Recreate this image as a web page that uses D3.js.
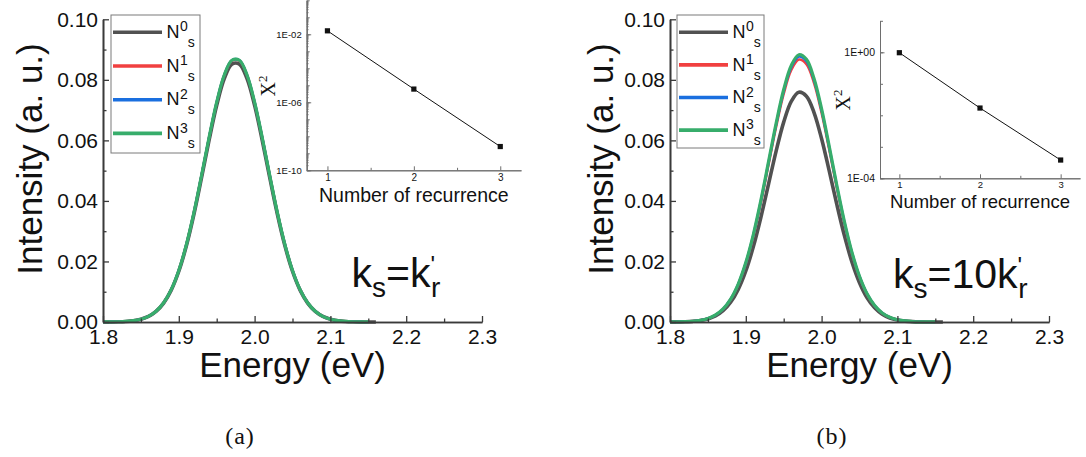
<!DOCTYPE html>
<html>
<head>
<meta charset="utf-8">
<script src="https://cdn.jsdelivr.net/npm/d3@7"></script>
<style>
  html, body { margin: 0; padding: 0; background: #fff; }
  svg { display: block; }
  text { font-family: "Liberation Sans", Arial, sans-serif; fill: #111; }
  .serif { font-family: "Liberation Serif", "Times New Roman", serif; }
</style>
</head>
<body>
<svg id="fig" width="1086" height="457"></svg>
<script>
// Photon energy grid (eV)
const energy = [1.80, 1.81, 1.82, 1.83, 1.84, 1.85, 1.86, 1.87, 1.88, 1.89,
                1.90, 1.91, 1.92, 1.93, 1.94, 1.95, 1.96, 1.97, 1.98, 1.99,
                2.00, 2.01, 2.02, 2.03, 2.04, 2.05, 2.06, 2.07, 2.08, 2.09,
                2.10, 2.11, 2.12, 2.13, 2.14, 2.15, 2.16];

// (a) k_s = k'_r : emission intensity after each recurrence
const a_N0 = [0.00001, 0.00003, 0.00008, 0.00019, 0.00043, 0.00092, 0.00184, 0.00349, 0.00625, 0.01053,
              0.01676, 0.02516, 0.03565, 0.04766, 0.06012, 0.07156, 0.08038, 0.08518, 0.08518, 0.08038,
              0.07156, 0.06012, 0.04766, 0.03565, 0.02516, 0.01676, 0.01053, 0.00625, 0.00349, 0.00184,
              0.00092, 0.00043, 0.00019, 0.00008, 0.00003, 0.00001, 0.00000];
const a_N1 = [0.00001, 0.00003, 0.00008, 0.00019, 0.00044, 0.00093, 0.00187, 0.00354, 0.00633, 0.01068,
              0.01699, 0.02552, 0.03615, 0.04833, 0.06096, 0.07256, 0.08150, 0.08637, 0.08637, 0.08150,
              0.07256, 0.06096, 0.04833, 0.03615, 0.02552, 0.01699, 0.01068, 0.00633, 0.00354, 0.00187,
              0.00093, 0.00044, 0.00019, 0.00008, 0.00003, 0.00001];
const a_N2 = [0.00001, 0.00003, 0.00008, 0.00019, 0.00044, 0.00093, 0.00187, 0.00355, 0.00634, 0.01069,
              0.01701, 0.02555, 0.03619, 0.04838, 0.06103, 0.07265, 0.08159, 0.08647, 0.08647, 0.08159,
              0.07265, 0.06103, 0.04838, 0.03619, 0.02555, 0.01701, 0.01069, 0.00634, 0.00355, 0.00187,
              0.00093, 0.00044, 0.00019, 0.00008, 0.00003, 0.00001];
const a_N3 = [0.00001, 0.00003, 0.00008, 0.00019, 0.00044, 0.00093, 0.00187, 0.00355, 0.00634, 0.01069,
              0.01701, 0.02555, 0.03619, 0.04838, 0.06103, 0.07265, 0.08159, 0.08647, 0.08647, 0.08159,
              0.07265, 0.06103, 0.04838, 0.03619, 0.02555, 0.01701, 0.01069, 0.00634, 0.00355, 0.00187,
              0.00093, 0.00044, 0.00019, 0.00008, 0.00003, 0.00001];

// (b) k_s = 10 k'_r
const b_N0 = [0.00001, 0.00004, 0.00009, 0.00022, 0.00048, 0.00101, 0.00199, 0.00371, 0.00651, 0.01079,
              0.01687, 0.02490, 0.03467, 0.04554, 0.05646, 0.06604, 0.07289, 0.07591, 0.07460, 0.06918,
              0.06053, 0.04998, 0.03893, 0.02862, 0.01985, 0.01299, 0.00802, 0.00468, 0.00257, 0.00133,
              0.00065, 0.00030, 0.00013, 0.00005, 0.00002, 0.00001, 0.00000];
const b_N1 = [0.00002, 0.00004, 0.00011, 0.00025, 0.00055, 0.00115, 0.00228, 0.00423, 0.00744, 0.01232,
              0.01927, 0.02844, 0.03959, 0.05201, 0.06448, 0.07542, 0.08325, 0.08670, 0.08520, 0.07901,
              0.06913, 0.05708, 0.04446, 0.03269, 0.02267, 0.01484, 0.00916, 0.00534, 0.00294, 0.00152,
              0.00075, 0.00034, 0.00015, 0.00006, 0.00002, 0.00001];
const b_N2 = [0.00002, 0.00004, 0.00011, 0.00025, 0.00056, 0.00117, 0.00230, 0.00428, 0.00752, 0.01247,
              0.01949, 0.02876, 0.04005, 0.05261, 0.06522, 0.07629, 0.08420, 0.08770, 0.08618, 0.07992,
              0.06993, 0.05774, 0.04498, 0.03306, 0.02293, 0.01501, 0.00927, 0.00540, 0.00297, 0.00154,
              0.00075, 0.00035, 0.00015, 0.00006, 0.00002, 0.00001];
const b_N3 = [0.00002, 0.00004, 0.00011, 0.00025, 0.00056, 0.00117, 0.00232, 0.00431, 0.00757, 0.01255,
              0.01963, 0.02896, 0.04032, 0.05297, 0.06567, 0.07681, 0.08478, 0.08830, 0.08677, 0.08046,
              0.07041, 0.05813, 0.04528, 0.03329, 0.02309, 0.01511, 0.00933, 0.00544, 0.00299, 0.00155,
              0.00076, 0.00035, 0.00015, 0.00006, 0.00002, 0.00001];

// Convergence insets: chi-square vs. number of recurrences
const recurrence = [1, 2, 3];
const chi2_a = [1.6e-2, 6.0e-6, 2.5e-9];
const chi2_b = [9.7e-1, 1.7e-2, 3.8e-4];

// Axis ticks
const xTicks = [1.8, 1.9, 2.0, 2.1, 2.2, 2.3];
const xMinor = [1.85, 1.95, 2.05, 2.15, 2.25];
const yTicks = [0.00, 0.02, 0.04, 0.06, 0.08, 0.10];
const yMinor = [0.01, 0.03, 0.05, 0.07, 0.09];
const insetXTicks = [1, 2, 3];
const insetXMinor = [1.5, 2.5];

const seriesNames = ["0", "1", "2", "3"];
const seriesColors = ["#515151", "#F14040", "#1A6FDF", "#37AD6B"];
const seriesWidths = [3.6, 2.6, 2.6, 3.2];

const svg = d3.select("#fig");

function expLabel(v) {
  const e = Math.round(Math.log10(v));
  const s = e < 0 ? "-" : "+";
  const a = Math.abs(e);
  return "1E" + s + (a < 10 ? "0" + a : a);
}

// tick marks only, no labels
function bareTicks(sel) { sel.selectAll("text").remove(); }

function drawPanel(p) {
  const g = svg.append("g");
  const x = d3.scaleLinear().domain([1.8, 2.3]).range([p.x0, p.x0 + 379]);
  const y = d3.scaleLinear().domain([0, 0.10]).range([322, 19.3]);

  // curves
  const line = d3.line()
    .x((d, i) => x(energy[i]))
    .y(d => y(d))
    .curve(d3.curveCatmullRom);
  p.series.forEach((s, k) => {
    g.append("path")
      .attr("d", line(s))
      .attr("fill", "none")
      .attr("stroke", seriesColors[k])
      .attr("stroke-width", seriesWidths[k])
      .attr("stroke-linejoin", "round");
  });

  // axes
  const axStyle = sel => {
    sel.select(".domain").attr("stroke", "#3a3a3a").attr("stroke-width", 1.6);
    sel.selectAll(".tick line").attr("stroke", "#3a3a3a").attr("stroke-width", 1.3);
    sel.selectAll("text").attr("font-size", 21).attr("fill", "#111")
      .attr("font-family", "Liberation Sans, Arial, sans-serif");
  };
  g.append("g").attr("transform", `translate(0,${y(0)})`)
    .call(d3.axisBottom(x).tickValues(xMinor).tickSizeInner(-3.5).tickSizeOuter(0))
    .call(axStyle).call(bareTicks);
  g.append("g").attr("transform", `translate(${x(1.8)},0)`)
    .call(d3.axisLeft(y).tickValues(yMinor).tickSizeInner(-3.5).tickSizeOuter(0))
    .call(axStyle).call(bareTicks);
  g.append("g").attr("transform", `translate(0,${y(0)})`)
    .call(d3.axisBottom(x).tickValues(xTicks).tickSizeInner(-6).tickSizeOuter(0)
      .tickPadding(7).tickFormat(d3.format(".1f")))
    .call(axStyle)
    .selectAll("text").attr("dy", "0.71em");
  g.append("g").attr("transform", `translate(${x(1.8)},0)`)
    .call(d3.axisLeft(y).tickValues(yTicks).tickSizeInner(-6).tickSizeOuter(0)
      .tickPadding(5).tickFormat(d3.format(".2f")))
    .call(axStyle);

  // axis titles
  g.append("text")
    .attr("transform", `translate(${p.yTitleX},159) rotate(-90)`)
    .attr("text-anchor", "middle").attr("font-size", 35)
    .text("Intensity (a. u.)");
  g.append("text")
    .attr("x", (x(1.8) + x(2.3)) / 2).attr("y", 377)
    .attr("text-anchor", "middle").attr("font-size", 35)
    .text("Energy (eV)");

  // legend
  const L = p.legend;
  g.append("rect").attr("x", L.x).attr("y", L.y).attr("width", L.w).attr("height", L.h)
    .attr("fill", "none").attr("stroke", "#7a7a7a").attr("stroke-width", 1);
  seriesNames.forEach((n, k) => {
    const ly = L.y + 17.3 + k * L.step;
    g.append("line").attr("x1", L.x + 2).attr("x2", L.x + 51).attr("y1", ly).attr("y2", ly)
      .attr("stroke", seriesColors[k]).attr("stroke-width", 3.6);
    const t = g.append("text").attr("x", L.x + 55.5).attr("y", ly + 5.6).attr("font-size", 18);
    t.append("tspan").text("N");
    t.append("tspan").attr("font-size", 14).attr("dx", 0.5).attr("dy", -6.5).text(n);
    t.append("tspan").attr("font-size", 14).attr("dy", 15.5).text("s");
  });

  // rate-constant annotation
  const a = g.append("text").attr("x", p.kx).attr("y", p.ky).attr("font-size", 41);
  a.append("tspan").text("k");
  a.append("tspan").attr("font-size", 28).attr("dy", 10).text("s");
  a.append("tspan").attr("dy", -10).text("=" + p.kmid + "k");
  a.append("tspan").attr("font-size", 24).attr("dy", -14).text("'");
  a.append("tspan").attr("font-size", 28).attr("dx", -4).attr("dy", 24).text("r");

  // inset: chi-square convergence
  const I = p.inset;
  const ix = d3.scaleLinear().domain([0.76, 3.24]).range([I.x0, I.x1]);
  const iy = d3.scaleLog().domain(I.dom).range([I.yb, I.yt]);
  const ig = g.append("g");
  const iStyle = sel => {
    sel.select(".domain").attr("stroke", "#6e6e6e").attr("stroke-width", 1);
    sel.selectAll(".tick line").attr("stroke", "#6e6e6e").attr("stroke-width", 1);
    sel.selectAll("text").attr("fill", "#111")
      .attr("font-family", "Liberation Sans, Arial, sans-serif");
  };
  const decades = d3.range(Math.round(Math.log10(I.dom[0])), Math.round(Math.log10(I.dom[1])) + 1)
    .map(e => Math.pow(10, e));
  if (I.subTicks) {
    const subs = [];
    decades.slice(0, -1).forEach(d => { for (let m = 2; m <= 9; m++) subs.push(d * m); });
    ig.append("g").attr("transform", `translate(${I.x0},0)`)
      .call(d3.axisLeft(iy).tickValues(subs).tickSizeInner(-1.8).tickSizeOuter(0))
      .call(iStyle).call(bareTicks);
  }
  ig.append("g").attr("transform", `translate(${I.x0},0)`)
    .call(d3.axisLeft(iy).tickValues(decades).tickSizeInner(-3).tickSizeOuter(0))
    .call(iStyle).call(bareTicks);
  ig.append("g").attr("transform", `translate(${I.x0},0)`)
    .call(d3.axisLeft(iy).tickValues(I.labels).tickSizeInner(-4.5).tickSizeOuter(0)
      .tickPadding(5).tickFormat(expLabel))
    .call(iStyle)
    .selectAll("text").attr("font-size", I.yfs);
  ig.append("g").attr("transform", `translate(0,${I.yb})`)
    .call(d3.axisBottom(ix).tickValues(insetXMinor).tickSizeInner(-2.5).tickSizeOuter(0))
    .call(iStyle).call(bareTicks);
  ig.append("g").attr("transform", `translate(0,${I.yb})`)
    .call(d3.axisBottom(ix).tickValues(insetXTicks).tickSizeInner(-4).tickSizeOuter(0)
      .tickPadding(I.xpad).tickFormat(d3.format("d")))
    .call(iStyle)
    .selectAll("text").attr("font-size", I.xfs);

  const vals = p.chi2;
  ig.append("path")
    .attr("d", d3.line().x((d, i) => ix(recurrence[i])).y(d => iy(d))(vals))
    .attr("fill", "none").attr("stroke", "#111").attr("stroke-width", 1);
  ig.selectAll("rect.pt").data(vals).join("rect").attr("class", "pt")
    .attr("x", (d, i) => ix(recurrence[i]) - 2.6).attr("y", d => iy(d) - 2.6)
    .attr("width", 5.2).attr("height", 5.2).attr("fill", "#111");

  ig.append("text")
    .attr("x", (I.x0 + I.x1) / 2).attr("y", I.titleY)
    .attr("text-anchor", "middle").attr("font-size", I.tfs)
    .text("Number of recurrence");
  const c = ig.append("text").attr("class", "serif")
    .attr("transform", `translate(${I.chiX},${I.chiY}) rotate(-90)`)
    .attr("text-anchor", "middle").attr("font-size", 20);
  c.append("tspan").text("X");
  c.append("tspan").attr("font-size", 13).attr("dy", -8).text("2");

  // sub-figure caption
  svg.append("text").attr("class", "serif")
    .attr("x", p.capX).attr("y", 444).attr("text-anchor", "middle").attr("font-size", 24)
    .attr("letter-spacing", 1)
    .text(p.caption);
}

drawPanel({
  x0: 103, series: [a_N0, a_N1, a_N2, a_N3], yTitleX: 42,
  legend: { x: 111, y: 15, w: 89, h: 138, step: 33.7 },
  kx: 351.5, ky: 286.7, kmid: "",
  inset: { x0: 306.7, x1: 521, yb: 170.3, yt: 0.3, dom: [1e-10, 1], labels: [1e-10, 1e-6, 1e-2],
           subTicks: true, yfs: 9.5, xfs: 10, xpad: 3.5, titleY: 202, tfs: 19.5, chiX: 275, chiY: 86 },
  chi2: chi2_a, caption: "(a)", capX: 240
});
drawPanel({
  x0: 670, series: [b_N0, b_N1, b_N2, b_N3], yTitleX: 613,
  legend: { x: 677, y: 15, w: 87, h: 133, step: 32.6 },
  kx: 893, ky: 288, kmid: "10",
  inset: { x0: 880, x1: 1080, yb: 178.3, yt: 20.8, dom: [1e-4, 10], labels: [1e-4, 1],
           subTicks: false, yfs: 10.5, xfs: 9.5, xpad: 2.5, titleY: 207.5, tfs: 18.5, chiX: 850, chiY: 100 },
  chi2: chi2_b, caption: "(b)", capX: 832
});
</script>
</body>
</html>
